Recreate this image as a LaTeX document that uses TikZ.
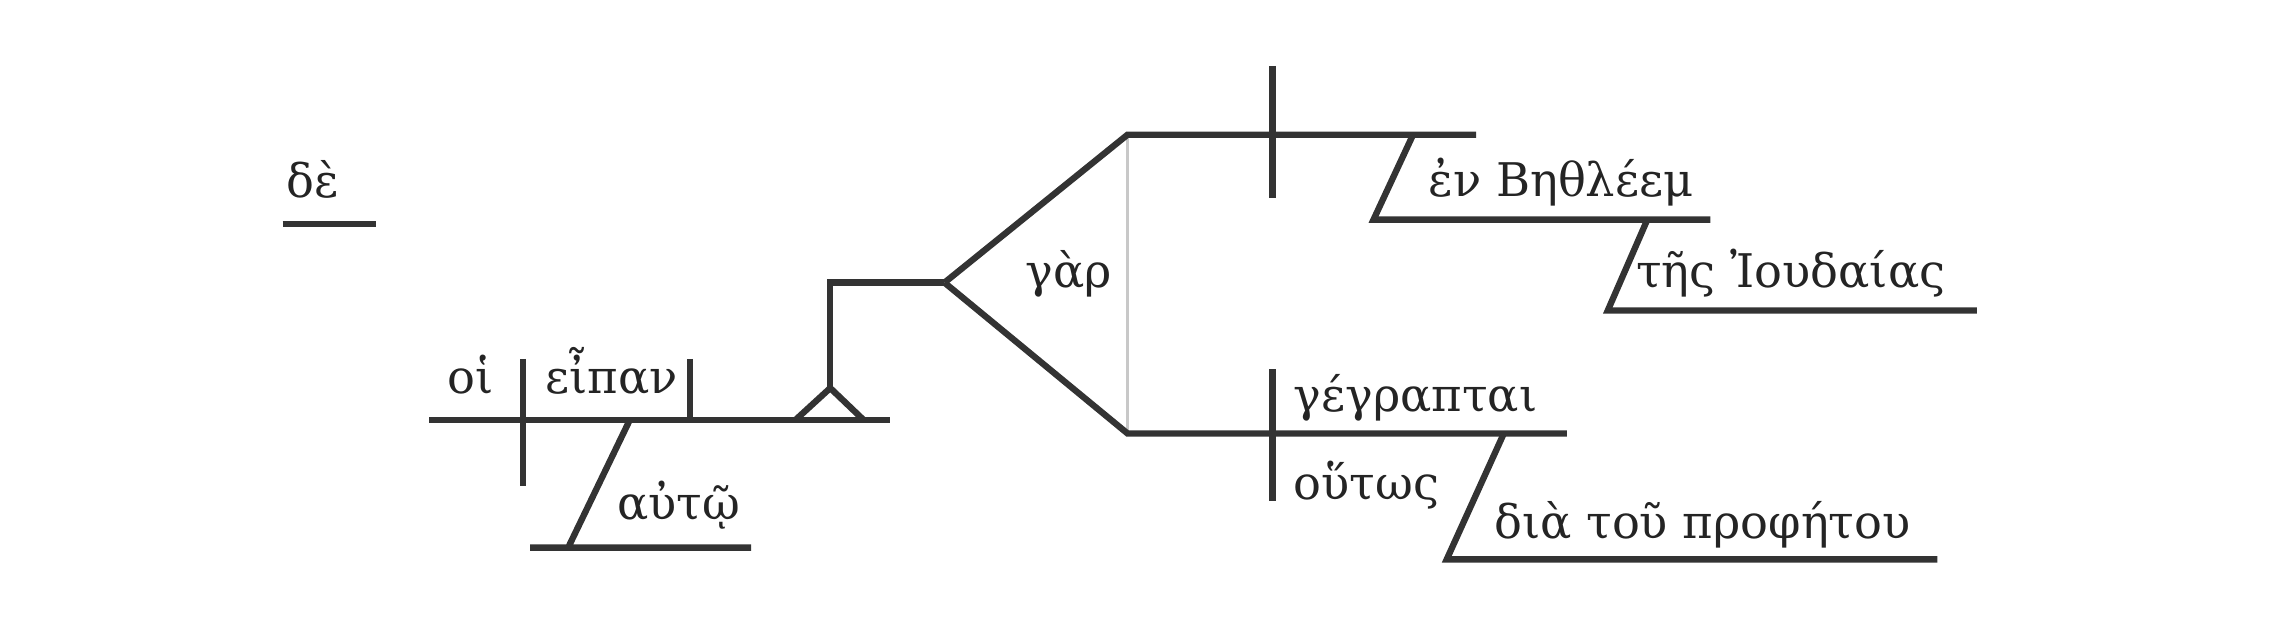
\documentclass[tikz,border=0pt]{standalone}
\usepackage{fontspec}
\setmainfont{DejaVu Serif}
\definecolor{ink}{HTML}{333333}
\definecolor{rulegrey}{HTML}{C8C8C8}

\begin{document}
\begin{tikzpicture}[x=0.014643cm, y=-0.014643cm,
	every node/.style={font=\fontsize{13.2}{15}\selectfont, text=ink!70!black, inner sep=0pt, anchor=base west},
	ln/.style={draw=ink, line width=1.8pt},
	faint/.style={draw=rulegrey, line width=0.9pt}]
	\useasboundingbox (0,0) rectangle (1568,434);
	% words
	\node (de) at (195,135) {δὲ};
	\node (hoi) at (305,269) {οἱ};
	\node (eipan) at (372,269) {εἶπαν};
	\node (auto) at (421,355) {αὐτῷ};
	\node (gar) at (700,196) {γὰρ};
	\node (en) at (975,134) {ἐν Βηθλέεμ};
	\node (tes) at (1117,196) {τῆς Ἰουδαίας};
	\node (gegraptai) at (883,281) {γέγραπται};
	\node (houtos) at (883,341) {οὕτως};
	\node (dia) at (1020,368) {διὰ τοῦ προφήτου};
	% line ends and joints
	\foreach \n/\x/\y in {dea/193/153, deb/257/153,
		ma/293/287, mb/608/287, sa/357/245, sb/357/332, va/471/245, vb/471/287,
		aua/430/287, aub/388/374, auc/362/374, aud/513/374,
		ta/543/287, tb/567/265, tc/590/287, sd/567/193, fork/645/193,
		up/770/92, upe/1008/92, lo/770/296, loe/1070/296,
		ua/869/45, ub/869/135, la/869/252, lb/869/342,
		ena/965/92, enb/938/150, enc/1168/150,
		tsa/1125/150, tsb/1098/212, tsc/1350/212,
		dla/1027/296, dlb/988/382, dlc/1323/382}
		\coordinate (\n) at (\x,\y);
	\draw[faint] (up) -- (lo);
	\draw[ln] (dea) -- (deb);
	\draw[ln] (ma) -- (mb);
	\draw[ln] (sa) -- (sb);
	\draw[ln] (va) -- (vb);
	\draw[ln] (aua) -- (aub) -- (auc) -- (aud);
	\draw[ln] (ta) -- (tb) -- (tc);
	\draw[ln] (tb) -- (sd) -- (fork);
	\draw[ln] (fork) -- (up) -- (upe);
	\draw[ln] (fork) -- (lo) -- (loe);
	\draw[ln] (ua) -- (ub);
	\draw[ln] (la) -- (lb);
	\draw[ln] (ena) -- (enb) -- (enc);
	\draw[ln] (tsa) -- (tsb) -- (tsc);
	\draw[ln] (dla) -- (dlb) -- (dlc);
\end{tikzpicture}
\end{document}
